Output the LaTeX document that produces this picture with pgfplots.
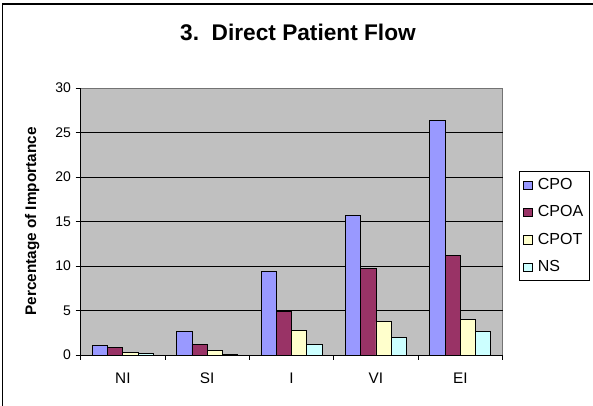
\documentclass[border=0pt]{standalone}
\usepackage{pgfplots}
\pgfplotsset{compat=1.18}
\usepackage{fontspec}
\setmainfont{Liberation Sans}

\definecolor{cpo}{HTML}{9999FF}
\definecolor{cpoa}{HTML}{993366}
\definecolor{cpot}{HTML}{FFFFCC}
\definecolor{ns}{HTML}{CCFFFF}
\definecolor{plotbg}{HTML}{C0C0C0}

\pgfplotsset{
  xlbar/.style={draw=black, line width=0.7pt,
    legend image code/.code={\draw[##1, draw=black, line width=0.5pt] (0pt,-3.2pt) rectangle (6.4pt,3.2pt);}},
}

\begin{document}
\begin{tikzpicture}[x=1pt,y=1pt]
\useasboundingbox (0,0) rectangle (444.75,304.5);
% chart frame (right and bottom edges fall outside the picture)
\draw[line width=0.8pt] (1.9,-3) -- (1.9,301.5) -- (448,301.5);
\node[font=\fontsize{17}{20}\selectfont\bfseries, anchor=base, inner sep=0pt]
  at (223.5,273.75) {3.\ \ Direct Patient Flow};
\begin{axis}[
  at={(60.5pt,38.25pt)}, anchor=south west,
  scale only axis, width=316.4pt, height=200.25pt,
  ybar=0pt, bar width=11.44pt,
  xmin=-0.5, xmax=4.5, ymin=0, ymax=30,
  xtick={0,...,4}, xticklabels={NI,SI,I,VI,EI},
  major x tick style={draw=none},
  minor xtick={-0.5,0.5,...,4.5},
  minor x tick style={black, line width=0.6pt},
  ytick={0,5,...,30},
  % grid lines only inside the plot area (the top edge stays grey)
  minor ytick={5,10,...,25}, yminorgrids,
  minor grid style={black, line width=0.6pt},
  minor y tick style={draw=none},
  tick align=outside, tick pos=left,
  major tick length=3.75pt, minor tick length=3.75pt,
  y tick style={black, line width=0.6pt},
  axis x line*=bottom, axis y line*=left,
  axis line style={black, line width=0.7pt, -},
  axis background/.style={fill=plotbg, draw=black!55, line width=0.6pt},
  /pgf/number format/assume math mode=true,
  yticklabel style={font=\fontsize{10.5}{12}\selectfont},
  xticklabel style={font=\fontsize{11.5}{13}\selectfont, yshift=-6pt},
  ylabel={Percentage of Importance},
  every axis y label/.style={at={(axis description cs:-0.115,0.5)}, rotate=90, anchor=center,
    font=\fontsize{11.5}{13}\selectfont\bfseries},
  legend style={at={(1.039,0.689)}, anchor=north west, draw=black, line width=0.6pt,
    font=\fontsize{12}{14}\selectfont, cells={anchor=west}, row sep=6pt, inner sep=3pt,
    column sep=2.5pt,
    nodes={inner sep=1.5pt, text height=9pt, text depth=2.5pt, font=\fontsize{12}{14}\selectfont}},
]
\addplot[xlbar, fill=cpo] coordinates {(0,1.05) (1,2.6) (2,9.35) (3,15.65) (4,26.3)};
\addplot[xlbar, fill=cpoa] coordinates {(0,0.87) (1,1.2) (2,4.9) (3,9.75) (4,11.2)};
\addplot[xlbar, fill=cpot] coordinates {(0,0.3) (1,0.48) (2,2.74) (3,3.72) (4,4.0)};
\addplot[xlbar, fill=ns] coordinates {(0,0.15) (1,0.1) (2,1.2) (3,2.0) (4,2.6)};
\legend{CPO,CPOA,CPOT,NS}
\end{axis}
\end{tikzpicture}
\end{document}
